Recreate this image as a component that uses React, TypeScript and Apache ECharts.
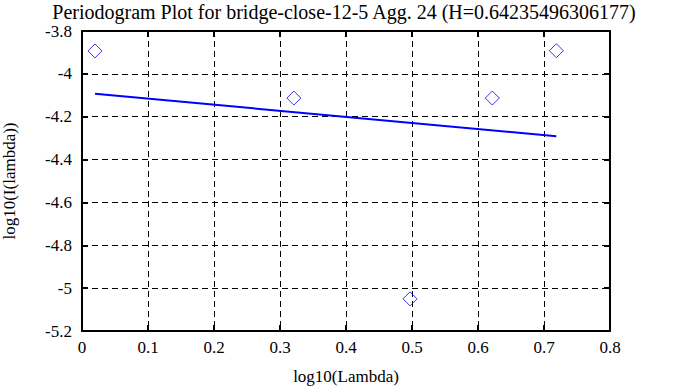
import React, { useEffect, useRef } from "react";
import * as echarts from "echarts";

const titleText = "Periodogram Plot for bridge-close-12-5 Agg. 24 (H=0.64235496306177)";
const xName = "log10(Lambda)";
const yName = "log10(I(lambda))";
const pointX = [0.0197, 0.321, 0.497, 0.6217, 0.7187];
const pointY = [-3.893, -4.113, -5.05, -4.113, -3.892];
const fitX = [0.0197, 0.7187];
const fitY = [-4.093, -4.291];

const FONT = "'Liberation Serif', 'Times New Roman', serif";

export default function App() {
  const ref = useRef<HTMLDivElement>(null);
  useEffect(() => {
    if (!ref.current) return;
    const chart = echarts.init(ref.current, null, { renderer: "svg" });
    const axisCommon = {
      axisLine: { show: true, onZero: false, lineStyle: { color: "#000", width: 2 } },
      axisTick: { show: true, inside: true, length: 6, lineStyle: { color: "#000", width: 2 } },
    };
    const fmt = (v: number) => String(parseFloat(v.toFixed(1)));
    chart.setOption({
      animation: false,
      backgroundColor: "#fff",
      textStyle: { fontFamily: FONT },
      title: {
        text: titleText,
        left: "center",
        top: 0,
        padding: [2, 0, 0, 0],
        textStyle: { fontFamily: FONT, fontSize: 20, fontWeight: "normal", color: "#000" },
      },
      grid: { left: 82, right: 78, top: 31, bottom: 56, containLabel: false, outerBoundsMode: "none" },
      xAxis: [
        {
          type: "value",
          min: 0,
          max: 0.8,
          interval: 0.1,
          position: "bottom",
          name: xName,
          nameLocation: "middle",
          nameGap: 37,
          nameTextStyle: { fontFamily: FONT, fontSize: 17, color: "#000" },
          ...axisCommon,
          axisLabel: { fontFamily: FONT, fontSize: 17, color: "#000", margin: 8, formatter: fmt },
          splitLine: { show: true, lineStyle: { color: "#000", type: [6, 4], width: 1 } },
        },
        {
          type: "value",
          min: 0,
          max: 0.8,
          interval: 0.1,
          position: "top",
          ...axisCommon,
          axisLabel: { show: false },
          splitLine: { show: false },
        },
      ],
      yAxis: [
        {
          type: "value",
          min: -5.2,
          max: -3.8,
          interval: 0.2,
          position: "left",
          name: yName,
          nameLocation: "middle",
          nameGap: 64,
          nameRotate: 90,
          nameTextStyle: { fontFamily: FONT, fontSize: 17, color: "#000" },
          ...axisCommon,
          axisLabel: { fontFamily: FONT, fontSize: 17, color: "#000", margin: 10, padding: [8, 0, 0, 0], formatter: fmt },
          splitLine: { show: true, lineStyle: { color: "#000", type: [6, 4], width: 1 } },
        },
        {
          type: "value",
          min: -5.2,
          max: -3.8,
          interval: 0.2,
          position: "right",
          ...axisCommon,
          axisLabel: { show: false },
          splitLine: { show: false },
        },
      ],
      series: [
        {
          type: "scatter",
          data: pointX.map((x, i) => [x, pointY[i]]),
          symbol: "diamond",
          symbolSize: 14,
          itemStyle: { color: "transparent", borderColor: "#0000ff", borderWidth: 1 },
        },
        {
          type: "line",
          data: fitX.map((x, i) => [x, fitY[i]]),
          symbol: "none",
          lineStyle: { color: "#0000ff", width: 2 },
        },
      ],
    });
    return () => chart.dispose();
  }, []);
  return <div ref={ref} style={{ position: "fixed", left: 0, top: 0, width: 688, height: 387 }} />;
}
